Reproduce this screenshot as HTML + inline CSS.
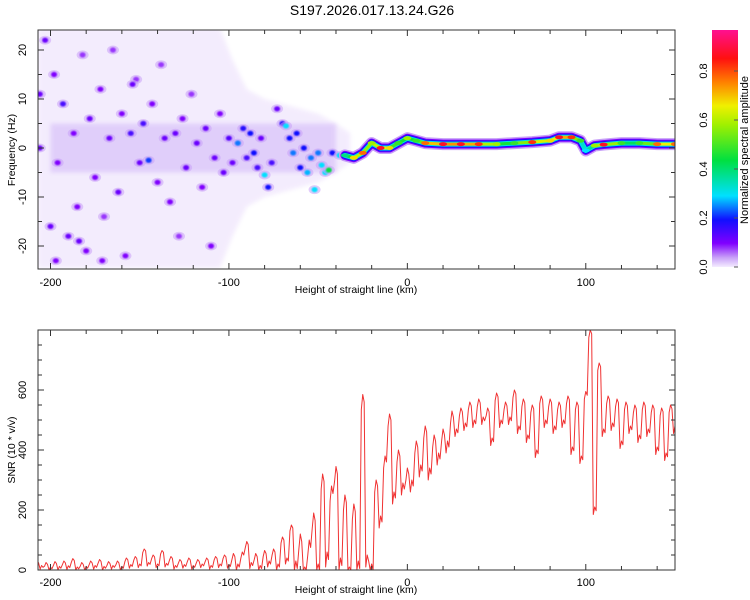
<!DOCTYPE html>
<html><head><meta charset="utf-8"><style>
html,body{margin:0;padding:0;background:#fff;}
svg{display:block;font-family:"Liberation Sans",sans-serif;}
</style></head><body>
<svg id="chart" width="750" height="600" viewBox="0 0 750 600">
<defs>
<linearGradient id="cbar" x1="0" y1="1" x2="0" y2="0">
<stop offset="0" stop-color="#f4ecff"/><stop offset="0.04" stop-color="#c8a0f8"/>
<stop offset="0.1" stop-color="#8000ff"/><stop offset="0.2" stop-color="#1010ff"/>
<stop offset="0.3" stop-color="#00e0ff"/><stop offset="0.45" stop-color="#00e040"/>
<stop offset="0.6" stop-color="#a0f000"/><stop offset="0.68" stop-color="#f0f000"/>
<stop offset="0.78" stop-color="#ff8000"/><stop offset="0.88" stop-color="#ff1010"/>
<stop offset="1" stop-color="#ff1090"/>
</linearGradient>
<clipPath id="clipTop"><rect x="38" y="30" width="637" height="239"/></clipPath>
<clipPath id="clipBot"><rect x="38" y="330" width="637" height="240"/></clipPath>
<filter id="soft"><feGaussianBlur stdDeviation="2"/></filter>
<filter id="soft2"><feGaussianBlur stdDeviation="0.8"/></filter>
</defs>
<text x="372" y="15" text-anchor="middle" font-size="14">S197.2026.017.13.24.G26</text>
<g id="topPanel"></g>
<g id="botPanel"></g>
<g id="cb">
<rect x="712" y="30" width="26" height="237" fill="url(#cbar)"/>
<text transform="translate(748,150) rotate(-90)" text-anchor="middle" font-size="11">Normalized spectral amplitude</text>
</g>
</svg>
<script>
// ---------- data ----------
const ridgeH = [-35,-30,-25,-20,-15,-10,-5,0,5,10,20,30,40,50,60,70,80,85,92,97,100,105,110,120,130,140,150];
const ridgeF = [-1.5,-2,-1,1,0,0,1,2,1.5,1,0.8,0.8,0.8,0.8,1,1.2,1.5,2.2,2.2,1.5,-0.5,0.5,0.7,1,1,0.8,0.8];
const ridgeA = [0.4,0.7,0.8,0.6,0.9,0.7,0.5,0.6,0.5,0.8,0.9,0.9,0.85,0.6,0.5,0.85,0.7,0.9,0.85,0.5,0.3,0.6,0.9,0.5,0.5,0.8,0.8];
const cloudH = [-207,-180,-150,-120,-105,-98,-90,-80,-70,-60,-50,-40,-32];
const cloudW = [24.5,24.5,24.5,24.5,24.5,18,12,10,9,8,7,5,3];
const blobH = [-203,-198,-196,-193,-190,-187,-185,-182,-180,-178,-175,-172,-170,-167,-165,-162,-160,-158,-155,-152,-150,-148,-145,-143,-140,-138,-136,-133,-130,-128,-126,-124,-121,-118,-115,-113,-110,-108,-105,-103,-100,-98,-95,-92,-90,-88,-86,-84,-82,-80,-78,-76,-73,-70,-68,-66,-64,-62,-60,-58,-56,-54,-52,-50,-48,-46,-44,-42,-38,-200,-197,-184,-171,-206,-206,-154];
const blobF = [22,15,-3,9,-18,3,-12,19,-21,6,-6,12,-14,2,20,-9,7,-22,3,14,-3,5,-2.5,9,-7,17,2,-11,3,-18,6,-4,11,1,-8,4,-20,-2,7,-5,2,-3,1,4,-2,3,-1,-4,2,-5.5,-8,-3,8,5,4.5,2,-1,3,-4,0,-5,-2,-8.5,-1,-3.5,-5,-4.5,-1,-1.5,-16,-23,-19,-23,0,11,13];
const blobA = [.12,.1,.1,.15,.12,.1,.1,.08,.1,.12,.1,.1,.08,.12,.08,.12,.1,.1,.15,.08,.12,.15,.22,.1,.1,.08,.12,.1,.12,.08,.1,.12,.08,.12,.1,.12,.1,.12,.1,.12,.14,.12,.25,.18,.15,.2,.2,.15,.12,.3,.2,.15,.12,.18,.3,.2,.25,.2,.2,.2,.28,.25,.3,.25,.3,.3,.45,.2,.3,.12,.1,.12,.1,.12,.12,.12];
const snrStart = -207.5, snrStep = 2.5;
const snrVals = [30,15,25,10,28,12,30,14,38,10,25,12,30,15,35,12,28,15,30,12,40,18,45,20,70,25,50,20,65,22,45,15,35,18,40,15,35,20,40,15,45,20,50,18,
55,20,60,95,25,55,15,65,30,70,20,110,40,150,30,120,10,100,190,20,320,60,280,345,40,250,10,220,30,585,50,20,300,180,380,520,260,400,290,340,300,430,350,480,340,450,390,470,430,530,470,540,490,560,500,570,510,540,440,590,500,560,510,600,480,570,450,550,400,580,500,570,480,560,500,580,410,560,380,595,800,210,690,470,580,490,570,430,560,480,550,450,560,470,550,410,540,390,550,480];
const snrSpread = [12,12,12,12,12,12,12,12,12,12,12,12,12,12,12,12,12,12,12,12,12,12,12,12,12,12,12,12,12,12,12,12,12,12,12,12,12,12,12,12,12,12,12,12,
20,20,20,20,20,20,20,20,20,20,20,20,20,20,
50,50,50,50,50,50,50,50,50,50,50,50,50,50,50,50,
40,40,40,40,40,40,40,40,40,40,40,40,40,40,40,40,40,40,40,40,
25,25,25,25,25,25,25,25,25,25,25,25,25,25,25,25,25,25,25,25,25,25,25,25,25,25,25,25,25,25,25,25,25,25,25,25,25,25,25,25,25,25,25,25,25,25,25,25,25,25];
const xTicks = [-200,-100,0,100];
const fTicks = [-20,-10,0,10,20];
const sTicks = [0,200,400,600];
const cbTicks = [0,0.2,0.4,0.6,0.8];
// ---------- scales ----------
const X0=38,X1=675,HMIN=-207,HMAX=150;
const xS=h=>X0+(h-HMIN)*(X1-X0)/(HMAX-HMIN);
const yF=f=>148-f*4.9;
const yS=v=>570-v*0.3;
const yC=a=>267-a*245;
const NS='http://www.w3.org/2000/svg';
function mk(tag,attrs,parent){const e=document.createElementNS(NS,tag);for(const k in attrs)e.setAttribute(k,attrs[k]);parent.appendChild(e);return e;}
const stops=[[0,[244,236,255]],[0.04,[200,160,248]],[0.1,[128,0,255]],[0.2,[16,16,255]],[0.3,[0,224,255]],[0.45,[0,224,64]],[0.6,[160,240,0]],[0.68,[240,240,0]],[0.78,[255,128,0]],[0.88,[255,16,16]],[1,[255,16,144]]];
function cmap(a){a=Math.max(0,Math.min(1,a));for(let i=1;i<stops.length;i++){if(a<=stops[i][0]){const [a0,c0]=stops[i-1],[a1,c1]=stops[i];const t=(a-a0)/(a1-a0);return 'rgb('+c0.map((c,j)=>Math.round(c+(c1[j]-c)*t)).join(',')+')';}}return 'rgb(255,16,144)';}
const topG=document.getElementById('topPanel'), botG=document.getElementById('botPanel');
// ---------- top panel ----------
const tg=mk('g',{'clip-path':'url(#clipTop)'},topG);
const pts=cloudH.map((h,i)=>xS(h)+','+yF(cloudW[i])).concat(cloudH.slice().reverse().map((h,i)=>xS(h)+','+yF(-cloudW[cloudW.length-1-i])));
const cloud=mk('polygon',{points:pts.join(' '),fill:'#e6d6fb',opacity:0.45,filter:'url(#soft)'},tg);


const band=mk('rect',{x:xS(-200),y:yF(5),width:xS(-40)-xS(-200),height:yF(-5)-yF(5),fill:'#9a5cf0',opacity:0.2,filter:'url(#soft)'},tg);


blobH.forEach((h,i)=>{
  const halo=mk('ellipse',{cx:xS(blobH[i]),cy:yF(blobF[i]),rx:6,ry:4.5,fill:cmap(0.04),opacity:0.55},tg);
  
  
  const b=mk('ellipse',{cx:xS(blobH[i]),cy:yF(blobF[i]),rx:3,ry:2.6,fill:cmap(blobA[i]),filter:'url(#soft2)'},tg);
  
  
});
const rp=ridgeH.map((h,i)=>xS(h)+','+yF(ridgeF[i])).join(' ');
[[12,0.04],[9,0.1],[7,0.2],[5,0.32]].forEach(([w,a])=>{
  const l=mk('polyline',{points:rp,fill:'none',stroke:cmap(a),'stroke-width':w,'stroke-linejoin':'round','stroke-linecap':'round'},tg);
  
  
});
for(let i=0;i<ridgeH.length-1;i++){
  const s=mk('line',{x1:xS(ridgeH[i]),y1:yF(ridgeF[i]),x2:xS(ridgeH[i+1]),y2:yF(ridgeF[i+1]),stroke:cmap((ridgeA[i]+ridgeA[i+1])/2*0.85),'stroke-width':3,'stroke-linecap':'round'},tg);
  
  
}
ridgeH.forEach((h,i)=>{
  const c=mk('ellipse',{cx:xS(h),cy:yF(ridgeF[i]),rx:4,ry:2,fill:cmap(ridgeA[i])},tg);
  
  
});
function frame(g,yTop,yBot){
  const r=mk('rect',{x:X0,y:yTop,width:X1-X0,height:yBot-yTop,fill:'none',stroke:'#333','stroke-width':1},g);
  
  
  for(let h=-200;h<=150;h+=20){
    const major=h%100===0, L=major?6:4;
    mk('line',{x1:xS(h),y1:yBot,x2:xS(h),y2:yBot-L,stroke:'#333'},g);
    mk('line',{x1:xS(h),y1:yTop,x2:xS(h),y2:yTop+L,stroke:'#333'},g);
  }
}
frame(topG,30,269);
for(let f=-20;f<=20;f+=5){const L=f%10===0?6:4;mk('line',{x1:X0,y1:yF(f),x2:X0+L,y2:yF(f),stroke:'#333'},topG);mk('line',{x1:X1,y1:yF(f),x2:X1-L,y2:yF(f),stroke:'#333'},topG);}
xTicks.forEach(h=>{const t=mk('text',{x:xS(h),y:286,'text-anchor':'middle','font-size':11},topG);t.textContent=h;
  
  });
fTicks.forEach(f=>{const t=mk('text',{transform:`translate(26,${yF(f)}) rotate(-90)`,'text-anchor':'middle','font-size':11},topG);t.textContent=f;
  
  });
const t1=mk('text',{x:356,y:293,'text-anchor':'middle','font-size':10.5},topG);t1.textContent='Height of straight line (km)';


const t2=mk('text',{transform:'translate(15,150) rotate(-90)','text-anchor':'middle','font-size':10.5},topG);t2.textContent='Frequency (Hz)';


// ---------- bottom panel ----------
const bg=mk('g',{'clip-path':'url(#clipBot)'},botG);
const spPts=[];
snrVals.forEach((v,i)=>{
  const h=snrStart+i*snrStep, s=snrSpread[i];
  spPts.push(xS(h-0.8)+','+yS(Math.max(0,v-s)));
  spPts.push(xS(h)+','+yS(v));
  spPts.push(xS(h+0.8)+','+yS(Math.max(0,v-s*0.5)));
});
const snr=mk('polyline',{points:spPts.join(' '),fill:'none',stroke:'#f03232','stroke-width':1,'stroke-linejoin':'round'},bg);


frame(botG,330,570);
for(let v=0;v<=800;v+=50){const L=v%200===0?6:4;mk('line',{x1:X0,y1:yS(v),x2:X0+L,y2:yS(v),stroke:'#333'},botG);mk('line',{x1:X1,y1:yS(v),x2:X1-L,y2:yS(v),stroke:'#333'},botG);}
xTicks.forEach(h=>{const t=mk('text',{x:xS(h),y:586,'text-anchor':'middle','font-size':11},botG);t.textContent=h;
  
  });
sTicks.forEach(v=>{const t=mk('text',{transform:`translate(26,${yS(v)}) rotate(-90)`,'text-anchor':'middle','font-size':11},botG);t.textContent=v;
  
  });
const t3=mk('text',{x:356,y:593,'text-anchor':'middle','font-size':10.5},botG);t3.textContent='Height of straight line (km)';


const t4=mk('text',{transform:'translate(15,450) rotate(-90)','text-anchor':'middle','font-size':10.5},botG);t4.textContent='SNR (10 * v/v)';


// ---------- colorbar ticks ----------
const cb=document.getElementById('cb');
cbTicks.forEach(a=>{
  mk('line',{x1:738,y1:yC(a),x2:734,y2:yC(a),stroke:'#555'},cb);
  const t=mk('text',{transform:`translate(707,${yC(a)}) rotate(-90)`,'text-anchor':'middle','font-size':11},cb);t.textContent=a.toFixed(1);
  
  
});
</script>
</body></html>
